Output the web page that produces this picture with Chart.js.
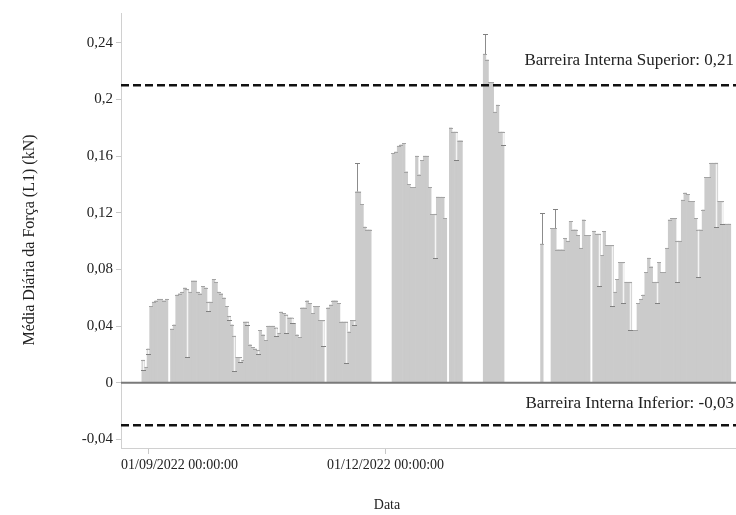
<!DOCTYPE html>
<html lang="pt">
<head>
<meta charset="utf-8">
<title>Média Diária da Força (L1)</title>
<script src="https://cdn.jsdelivr.net/npm/chart.js@4.4.1/dist/chart.umd.min.js"></script>
<style>
  body { margin: 0; background: #fff; }
</style>
</head>
<body>
<canvas id="grafico" width="736" height="515"></canvas>
<script>
// Média diária da força (kN), um valor por dia a partir de 22/08/2022 (null = sem registo)
const inicio = Date.UTC(2022, 7, 22);
const mediaDiaria = [
    null, null, null, null, null, null, null, null, 0.016, 0.011,
    0.024, 0.054, 0.057, 0.058, 0.059, 0.059, 0.058, 0.059, null, 0.038,
    0.041, 0.062, 0.063, 0.064, 0.067, 0.066, 0.064, 0.072, 0.072, 0.064,
    0.063, 0.068, 0.067, 0.057, 0.057, 0.073, 0.071, 0.064, 0.063, 0.060,
    0.054, 0.047, 0.041, 0.033, 0.018, 0.018, 0.016, 0.043, 0.043, 0.027,
    0.025, 0.024, 0.023, 0.037, 0.034, 0.030, 0.040, 0.040, 0.040, 0.039,
    0.035, 0.050, 0.049, 0.048, 0.046, 0.046, 0.042, 0.034, 0.032, 0.053,
    0.053, 0.058, 0.056, 0.049, 0.054, 0.054, 0.044, 0.044, null, 0.053,
    0.055, 0.058, 0.058, 0.056, 0.043, 0.043, 0.043, 0.036, 0.044, 0.044,
    0.135, 0.135, 0.126, 0.110, 0.108, 0.108, null, null, null, null,
    null, null, null, null, 0.162, 0.163, 0.167, 0.168, 0.169, 0.149,
    0.140, 0.138, 0.138, 0.160, 0.147, 0.157, 0.160, 0.160, 0.138, 0.119,
    0.119, 0.131, 0.131, 0.131, 0.116, null, 0.180, 0.177, 0.177, 0.171,
    0.171, null, null, null, null, null, null, null, null, 0.232,
    0.228, 0.212, 0.212, 0.191, 0.196, 0.177, 0.177, null, null, null,
    null, null, null, null, null, null, null, null, null, null,
    null, 0.098, null, null, null, 0.109, 0.109, 0.094, 0.094, 0.094,
    0.102, 0.100, 0.114, 0.108, 0.108, 0.104, 0.095, 0.115, 0.104, 0.104,
    null, 0.107, 0.105, 0.105, 0.090, 0.107, 0.097, 0.097, 0.097, 0.064,
    0.073, 0.085, 0.085, 0.071, 0.071, 0.071, 0.037, 0.037, 0.056, 0.059,
    0.062, 0.078, 0.088, 0.082, 0.071, 0.071, 0.085, 0.078, 0.078, 0.095,
    0.115, 0.116, 0.116, 0.100, 0.100, 0.129, 0.134, 0.133, 0.128, 0.128,
    0.116, 0.108, 0.108, 0.122, 0.145, 0.145, 0.155, 0.155, 0.155, 0.128,
    0.128, 0.112, 0.112, 0.112, null, null
];

// extremos das barras de erro
const limiteInferior = {
    '30/08/2022': 0.009, '01/09/2022': 0.020, '16/09/2022': 0.018, '24/09/2022': 0.051,
    '02/10/2022': 0.044, '04/10/2022': 0.008, '06/10/2022': 0.015, '09/10/2022': 0.041,
    '13/10/2022': 0.020, '20/10/2022': 0.033, '24/10/2022': 0.035, '26/10/2022': 0.042,
    '07/11/2022': 0.026, '16/11/2022': 0.014, '19/11/2022': 0.041, '20/12/2022': 0.088,
    '28/12/2022': 0.157, '15/01/2023': 0.168, '21/02/2023': 0.068, '26/02/2023': 0.054,
    '02/03/2023': 0.056, '05/03/2023': 0.037, '15/03/2023': 0.056, '23/03/2023': 0.071,
    '31/03/2023': 0.075, '07/04/2023': 0.110, '09/04/2023': 0.112
};
const limiteSuperior = {
    '20/11/2022': 0.155, '08/01/2023': 0.246, '30/01/2023': 0.120, '04/02/2023': 0.123
};

const ticksY = [-0.04, 0, 0.04, 0.08, 0.12, 0.16, 0.2, 0.24];
const datasMarcadas = ['01/09/2022 00:00:00', '01/12/2022 00:00:00'];
const barreiraSuperior = 0.21;
const barreiraInferior = -0.03;

const dias = mediaDiaria.map((_, i) => {
    const d = new Date(inicio + i * 86400000);
    const dd = String(d.getUTCDate()).padStart(2, '0');
    const mm = String(d.getUTCMonth() + 1).padStart(2, '0');
    return dd + '/' + mm + '/' + d.getUTCFullYear() + ' 00:00:00';
});

const serif = '"Liberation Serif", "Times New Roman", serif';
const virgula = v => String(v).replace('.', ',');

// barras de erro, linhas de referência e textos
const desenhos = {
    id: 'desenhos',
    afterDatasetsDraw(chart) {
        const ctx = chart.ctx;
        const area = chart.chartArea;
        const x = chart.scales.x;
        const y = chart.scales.y;
        ctx.save();

        // pequenos traços no topo de cada barra
        ctx.lineWidth = 1;
        ctx.strokeStyle = '#a4a4a4';
        mediaDiaria.forEach((v, i) => {
            if (v === null) return;
            const px = Math.round(x.getPixelForValue(i));
            const py = Math.round(y.getPixelForValue(v)) + 0.5;
            ctx.beginPath();
            ctx.moveTo(px - 2, py);
            ctx.lineTo(px + 2, py);
            ctx.stroke();
        });

        const tampa = (px, py) => {
            ctx.strokeStyle = '#808080';
            ctx.lineWidth = 1;
            ctx.beginPath();
            ctx.moveTo(px - 2.5, py);
            ctx.lineTo(px + 2.5, py);
            ctx.stroke();
        };

        Object.keys(limiteInferior).forEach(k => {
            const i = dias.indexOf(k + ' 00:00:00');
            if (i < 0 || mediaDiaria[i] === null) return;
            const px = Math.round(x.getPixelForValue(i)) + 0.5;
            const pv = y.getPixelForValue(mediaDiaria[i]);
            const pl = Math.round(y.getPixelForValue(limiteInferior[k])) + 0.5;
            ctx.strokeStyle = '#f4f4f4';
            ctx.lineWidth = 1.5;
            ctx.beginPath();
            ctx.moveTo(px, pv + 1);
            ctx.lineTo(px, pl);
            ctx.stroke();
            tampa(px, pl);
        });

        Object.keys(limiteSuperior).forEach(k => {
            const i = dias.indexOf(k + ' 00:00:00');
            if (i < 0 || mediaDiaria[i] === null) return;
            const px = Math.round(x.getPixelForValue(i)) + 0.5;
            const pv = y.getPixelForValue(mediaDiaria[i]);
            const ph = Math.round(y.getPixelForValue(limiteSuperior[k])) + 0.5;
            ctx.strokeStyle = '#8c8c8c';
            ctx.lineWidth = 1;
            ctx.beginPath();
            ctx.moveTo(px, pv);
            ctx.lineTo(px, ph);
            ctx.stroke();
            tampa(px, ph);
        });

        // linha do zero
        const y0 = y.getPixelForValue(0);
        ctx.strokeStyle = '#7a7a7a';
        ctx.lineWidth = 2;
        ctx.beginPath();
        ctx.moveTo(area.left, y0);
        ctx.lineTo(area.right, y0);
        ctx.stroke();

        // barreiras
        ctx.strokeStyle = '#111';
        ctx.lineWidth = 2.5;
        ctx.setLineDash([8, 4]);
        [barreiraSuperior, barreiraInferior].forEach(b => {
            const py = y.getPixelForValue(b);
            ctx.beginPath();
            ctx.moveTo(area.left, py);
            ctx.lineTo(area.right, py);
            ctx.stroke();
        });
        ctx.setLineDash([]);

        ctx.fillStyle = '#222';
        ctx.textBaseline = 'middle';
        ctx.textAlign = 'right';
        ctx.font = '17px ' + serif;
        ctx.fillText('Barreira Interna Superior: ' + virgula(barreiraSuperior), 734, y.getPixelForValue(barreiraSuperior) - 25);
        ctx.fillText('Barreira Interna Inferior: ' + virgula(barreiraInferior), 734, y.getPixelForValue(barreiraInferior) - 22);

        // rótulos do eixo x
        ctx.font = '14px ' + serif;
        ctx.textAlign = 'left';
        datasMarcadas.forEach(lbl => {
            const i = dias.indexOf(lbl);
            const w = ctx.measureText(lbl).width;
            const left = Math.max(x.getPixelForValue(i) - w / 2, area.left);
            ctx.fillText(lbl, left, 465);
        });

        // títulos
        ctx.textAlign = 'center';
        ctx.fillText('Data', 387, 505);
        ctx.font = '16px ' + serif;
        ctx.translate(30, 240);
        ctx.rotate(-Math.PI / 2);
        ctx.fillText('Média Diária da Força (L1) (kN)', 0, 0);
        ctx.restore();
    }
};

new Chart(document.getElementById('grafico'), {
    type: 'bar',
    data: {
        labels: dias,
        datasets: [{
            data: mediaDiaria,
            backgroundColor: '#cbcbcb',
            borderWidth: 0,
            barPercentage: 1,
            categoryPercentage: 1
        }]
    },
    options: {
        responsive: false,
        animation: false,
        layout: { padding: { top: 13, right: 0, left: 0, bottom: 0 } },
        plugins: {
            legend: { display: false },
            tooltip: { enabled: false }
        },
        scales: {
            x: {
                offset: true,
                grid: { drawOnChartArea: false, offset: false, tickLength: 6, tickColor: '#c8c8c8' },
                border: { color: '#d0d0d0' },
                ticks: { display: false, autoSkip: false },
                afterBuildTicks: s => { s.ticks = s.ticks.filter(t => datasMarcadas.includes(dias[t.value])); },
                afterFit: s => { s.height = 67; }
            },
            y: {
                min: -0.046,
                max: 0.261,
                afterBuildTicks: s => { s.ticks = ticksY.map(v => ({ value: v })); },
                grid: { drawOnChartArea: false, tickLength: 5, tickColor: '#c8c8c8' },
                border: { color: '#d0d0d0' },
                ticks: {
                    padding: 3,
                    color: '#222',
                    font: { family: serif, size: 15 },
                    callback: v => virgula(v)
                },
                afterFit: s => { s.width = 121; }
            }
        }
    },
    plugins: [desenhos]
});
</script>
</body>
</html>
